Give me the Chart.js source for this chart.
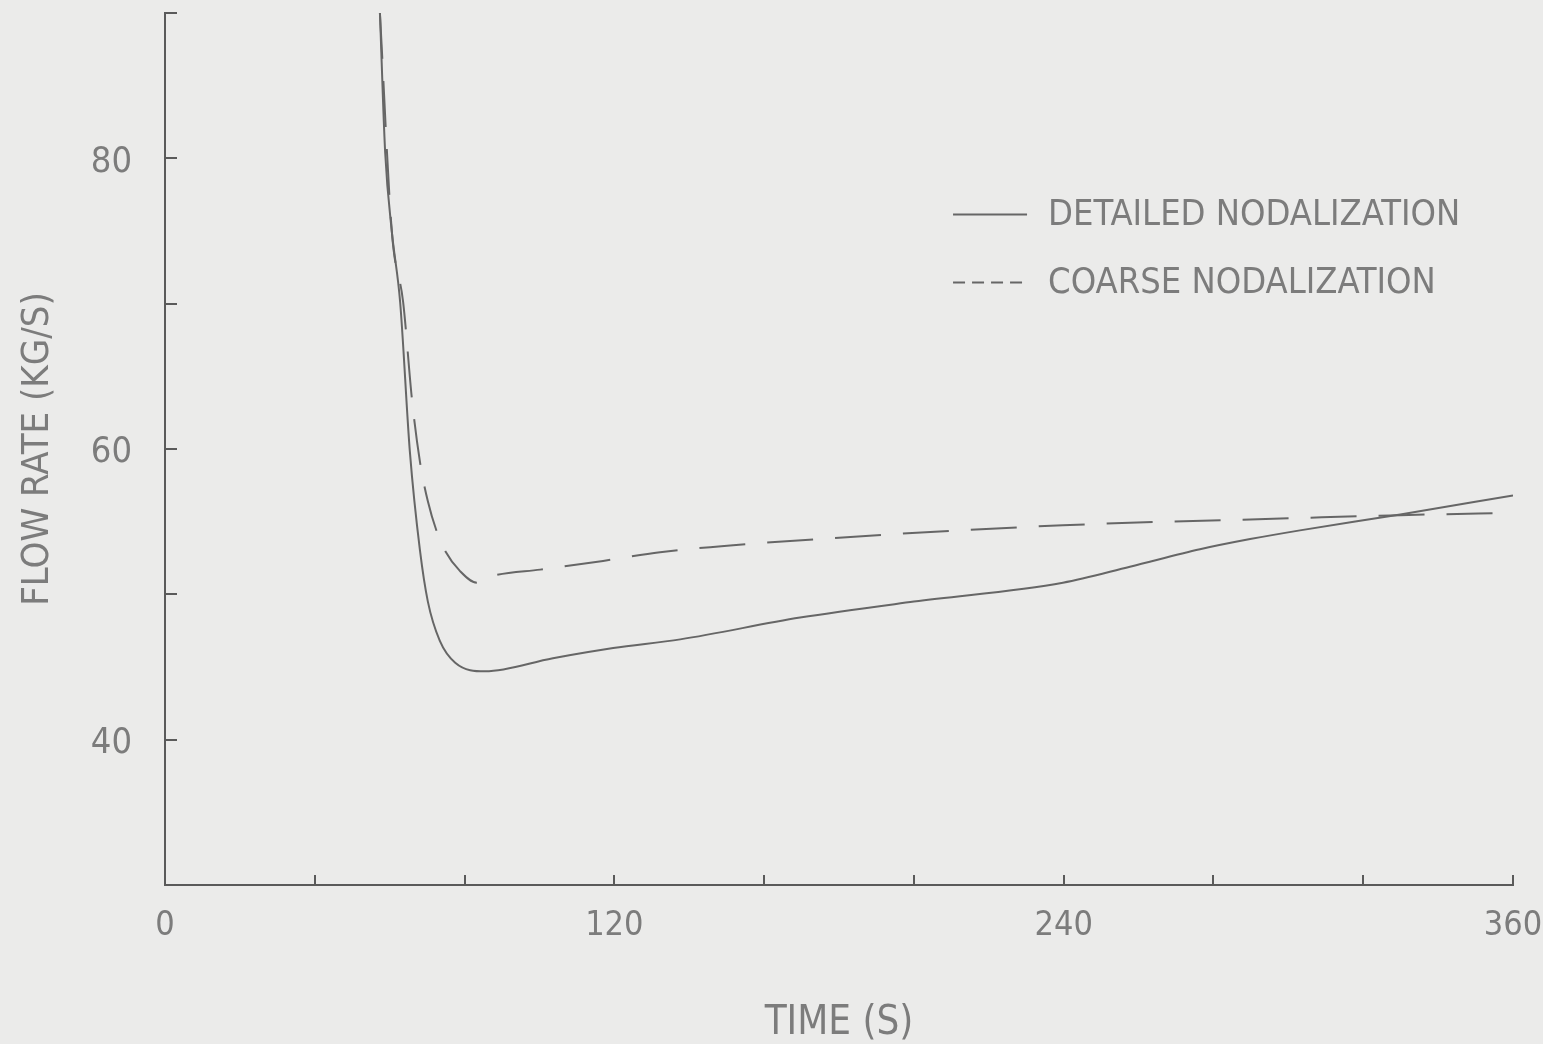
<!DOCTYPE html>
<html>
<head>
<meta charset="utf-8">
<title>Flow rate vs time</title>
<script src="https://cdn.jsdelivr.net/npm/chart.js@4.4.1/dist/chart.umd.min.js"></script>
<style>
  html, body { margin: 0; padding: 0; background: #ebebea; }
  #wrap { width: 1543px; height: 1044px; position: relative; }
  canvas { display: block; }
</style>
</head>
<body>
<div id="wrap"><canvas id="c" width="1543" height="1044"></canvas></div>
<script>
// Detailed nodalization: time (s) and flow rate (kg/s)
const detailedTime = [57.4, 58.8, 60.6, 62.8, 65.4, 68.1, 70.2, 73.4, 77.5, 85.5, 103.6, 119.7, 137.6, 169.6, 200, 239.8, 257.7, 276.4, 289.8, 303.1, 329.9, 360];
const detailedFlow = [90.0, 80.4, 74.9, 70.1, 59.8, 53.0, 49.5, 46.8, 45.3, 44.7, 45.6, 46.3, 46.9, 48.4, 49.5, 50.8, 51.9, 53.1, 53.8, 54.4, 55.5, 56.8];

// Coarse nodalization: time (s) and flow rate (kg/s)
const coarseTime = [57.4, 60.6, 63.6, 66.0, 68.1, 70.2, 72.6, 74.8, 78.8, 83.3, 88.1, 100.2, 117, 132.2, 180, 239.8, 303.1, 330, 360];
const coarseFlow = [90.0, 74.9, 70.1, 63.3, 59.1, 56.4, 54.3, 53.0, 51.6, 50.8, 51.3, 51.7, 52.3, 52.9, 53.9, 54.75, 55.25, 55.45, 55.6];

const seriesNames = ['DETAILED NODALIZATION', 'COARSE NODALIZATION'];
const xTickLabels = [0, 120, 240, 360];
const yTickLabels = [40, 60, 80];

const FONT = "'Liberation Sans Narrow', 'DejaVu Sans Condensed', 'Liberation Sans', sans-serif";
const INK = '#666666';
const TEXT = '#7c7c7c';

const toPoints = (t, f) => t.map((v, i) => ({ x: v, y: f[i] }));

// Key drawn inside the plot, to the upper right
const insideKey = {
  id: 'insideKey',
  afterDraw(chart) {
    const { ctx, chartArea: a } = chart;
    const w = a.right - a.left, h = a.bottom - a.top;
    const x0 = a.left + w * 0.5846;
    const x1 = x0 + 74;
    const tx = x0 + 95;
    const rows = [a.top + h * 0.231, a.top + h * 0.309];
    ctx.save();
    chart.data.datasets.forEach((ds, i) => {
      const y = rows[i];
      ctx.strokeStyle = ds.borderColor;
      ctx.lineWidth = 2;
      ctx.setLineDash(i === 1 ? [12, 7] : []);
      ctx.beginPath();
      ctx.moveTo(x0, y);
      ctx.lineTo(x1, y);
      ctx.stroke();
      ctx.setLineDash([]);
      ctx.fillStyle = TEXT;
      ctx.font = '36px ' + FONT;
      ctx.textAlign = 'left';
      ctx.textBaseline = 'middle';
      ctx.fillText(ds.label, tx, y + 1);
    });
    ctx.restore();
  }
};

new Chart(document.getElementById('c'), {
  type: 'line',
  data: {
    datasets: [
      {
        label: seriesNames[0],
        data: toPoints(detailedTime, detailedFlow),
        borderColor: INK,
        borderWidth: 2,
        pointRadius: 0,
        cubicInterpolationMode: 'monotone',
        fill: false
      },
      {
        label: seriesNames[1],
        data: toPoints(coarseTime, coarseFlow),
        borderColor: INK,
        borderWidth: 2,
        borderDash: [46, 22],
        pointRadius: 0,
        cubicInterpolationMode: 'monotone',
        fill: false
      }
    ]
  },
  options: {
    responsive: false,
    animation: false,
    devicePixelRatio: 1,
    layout: { padding: { left: 0, right: 30, top: 13, bottom: 0 } },
    plugins: {
      legend: { display: false },
      tooltip: { enabled: false }
    },
    scales: {
      x: {
        type: 'linear',
        min: 0,
        max: 360,
        afterFit(scale) {
          scale.height = 159;
          scale.paddingLeft = 0;
          scale.paddingRight = 0;
        },
        border: { display: true, color: '#5a5a5a', width: 2 },
        grid: {
          drawOnChartArea: false,
          drawTicks: true,
          tickLength: -10,
          color: '#5a5a5a',
          lineWidth: 2
        },
        ticks: {
          stepSize: 40,
          autoSkip: false,
          maxRotation: 0,
          padding: 31,
          color: TEXT,
          font: { family: FONT, size: 34 },
          callback: (v) => (xTickLabels.includes(v) ? String(v) : '')
        },
        title: {
          display: true,
          text: 'TIME (S)',
          color: TEXT,
          font: { family: FONT, size: 40, lineHeight: 1.0 },
          padding: { top: 0, bottom: 0 }
        }
      },
      y: {
        type: 'linear',
        min: 30,
        max: 90,
        afterFit(scale) {
          scale.width = 165;
          scale.paddingTop = 0;
          scale.paddingBottom = 0;
        },
        border: { display: true, color: '#5a5a5a', width: 2 },
        grid: {
          drawOnChartArea: false,
          drawTicks: true,
          tickLength: -12,
          color: '#5a5a5a',
          lineWidth: 2
        },
        ticks: {
          stepSize: 10,
          autoSkip: false,
          padding: 45,
          labelOffset: 4,
          color: TEXT,
          font: { family: FONT, size: 36 },
          callback: (v) => (yTickLabels.includes(v) ? String(v) : '')
        },
        title: {
          display: true,
          text: 'FLOW RATE (KG/S)',
          color: TEXT,
          font: { family: FONT, size: 38 },
          padding: { top: 15, bottom: 0 }
        }
      }
    }
  },
  plugins: [insideKey]
});
</script>
</body>
</html>
